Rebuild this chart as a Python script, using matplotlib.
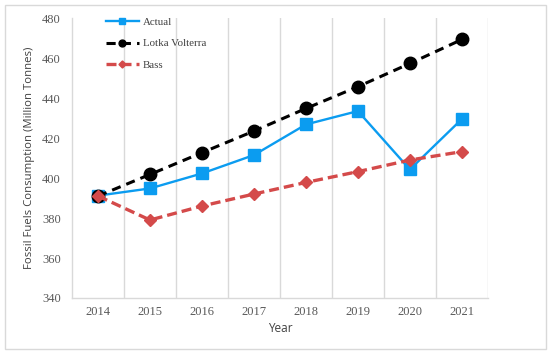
import matplotlib.pyplot as plt
from matplotlib.patches import Rectangle

years = ['2014', '2015', '2016', '2017', '2018', '2019', '2020', '2021']
actual = [391.2, 394.8, 402.3, 411.5, 426.8, 433.5, 404.3, 429.5]
lotka = [391.0, 401.8, 412.7, 423.5, 434.8, 445.7, 457.3, 469.3]
bass = [391.0, 379.0, 386.0, 392.0, 397.8, 403.2, 409.0, 413.2]

fig = plt.figure(figsize=(5.5, 3.55), dpi=100)
ax = fig.add_axes([0.131, 0.1606, 0.756, 0.7884])

# outer frame around the whole chart
fig.patches.append(Rectangle((0.009, 0.017), 0.983, 0.97, transform=fig.transFigure,
                             fill=False, edgecolor='#d9d9d9', linewidth=1.0))

x = range(len(years))
ax.plot(x, actual, color='#0b9cf0', linewidth=1.7, marker='s', markersize=8.5,
        label='Actual', zorder=3)
ax.plot(x, lotka, color='black', linewidth=2.2, linestyle=(0, (3, 2)), marker='o',
        markersize=9, label='Lotka Volterra', zorder=4)
ax.plot(x, bass, color='#d44a4a', linewidth=2.4, linestyle=(0, (3, 1.5)), marker='D',
        markersize=6.5, label='Bass', zorder=5)

ax.set_xlim(-0.5, len(years) - 0.5)
ax.set_ylim(340, 480)
ax.set_yticks(range(340, 481, 20))
ax.set_xticks(list(x))
ax.set_xticklabels(years)
ax.set_xticks([i + 0.5 for i in range(len(years))], minor=True)
ax.grid(True, which='minor', axis='x', color='#d9d9d9', linewidth=1.0)
ax.tick_params(which='both', length=0)
ax.tick_params(axis='both', labelsize=9, labelcolor='#595959')
ax.tick_params(axis='x', pad=6)
ax.tick_params(axis='y', pad=8)
for lab in ax.get_xticklabels() + ax.get_yticklabels():
    lab.set_family('Liberation Serif')

for s in ['top', 'right']:
    ax.spines[s].set_visible(False)
for s in ['left', 'bottom']:
    ax.spines[s].set_color('#d9d9d9')
    ax.spines[s].set_linewidth(1.0)

ax.set_xlabel('Year', fontsize=8.5, color='#404040', family='Open Sans', labelpad=3)
ax.set_ylabel('Fossil Fuels Consumption (Million Tonnes)', fontsize=8.2, color='#404040',
              family='Open Sans', labelpad=5)

leg = ax.legend(loc='upper left', bbox_to_anchor=(0.082, 1.003), frameon=False,
                borderpad=0, borderaxespad=0,
                prop={'family': 'Liberation Serif', 'size': 7.8}, handlelength=3.0,
                handletextpad=0.4, markerscale=0.55, labelspacing=1.1,
                labelcolor='#404040')

plt.savefig('out.png', dpi=100)
